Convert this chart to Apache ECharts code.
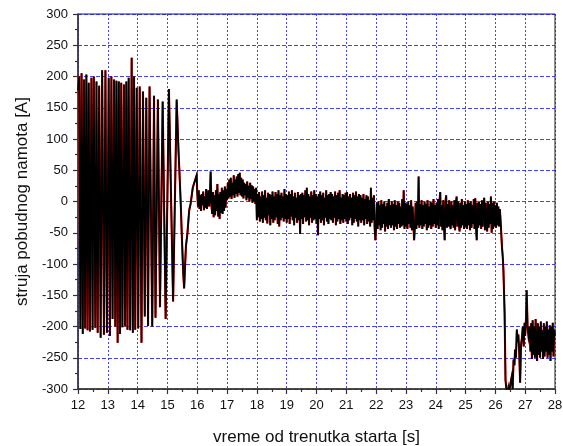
<!DOCTYPE html>
<html>
<head>
<meta charset="utf-8">
<script src="https://cdn.jsdelivr.net/npm/echarts@6/dist/echarts.min.js"></script>
<style>html,body{margin:0;padding:0;background:#fff}#c{width:563px;height:446px}</style>
</head>
<body>
<div id="c"></div>
<script>
// ---- axis ticks ----
const xTicks = [12,13,14,15,16,17,18,19,20,21,22,23,24,25,26,27,28];
const yTicks = [-300,-250,-200,-150,-100,-50,0,50,100,150,200,250,300];

// ---- oscillating start (peaks / troughs), time [s] and current [A] ----
const oscT = [12.00,12.04,12.08,12.12,12.16,12.20,12.24,12.28,12.32,12.36,12.40,12.45,12.49,12.53,12.58,12.62,12.66,12.71,12.76,12.81,12.87,12.92,12.97,13.03,13.07,13.12,13.16,13.21,13.25,13.29,13.33,13.37,13.41,13.45,13.49,13.54,13.58,13.62,13.66,13.70,13.75,13.80,13.84,13.88,13.92,13.97,14.02,14.07,14.13,14.18,14.24,14.29,14.35,14.40,14.49,14.55,14.60,14.68,14.75,14.84,14.94,15.05,15.19,15.31,15.37,15.40,15.45,15.48,15.53,15.56,15.59,15.62,15.67,15.73,15.78,15.85,15.90,15.95,15.98];
const oscI = [178,200,-204,205,-212,195,-203,203,-206,190,-208,198,-205,200,-202,192,-210,185,-218,210,-213,210,-210,198,-215,200,-188,195,-200,193,-226,192,-212,190,-201,187,-200,192,-205,198,-206,230,-210,200,-205,182,-203,184,-226,176,-184,166,-199,184,-200,169,-186,163,-169,160,-188,180,-160,163,82,50,-8,-51,-115,-139,-105,-72,-51,-14,-3,22,30,28,42];

// ---- steady part, sampled every 0.025 s from 16.0 s ----
const noiseStart = 16.0;
const noiseStep = 0.025;
const noiseI = [
 15,-8,18,-12,10,-15,12,-6,16,-14,8,-10,20,-12,5,18,-8,10,48,-5,
 -20,15,-25,10,-22,18,-15,28,-24,12,-28,15,-18,22,-20,18,-15,24,-10,20,
 2,30,5,35,8,38,4,30,10,42,6,35,12,40,8,44,14,46,10,38,
 8,35,5,30,10,28,2,32,6,25,0,30,4,26,-2,24,0,20,-4,22,
 -30,12,-25,15,-32,8,-28,16,-34,10,-26,18,-30,6,-35,14,-22,12,-38,10,
 -28,16,-34,8,-30,15,-25,12,-36,18,-40,10,-30,14,-26,8,-32,20,-28,12,
 -34,10,-28,16,-36,12,-24,18,-30,8,-38,14,-26,6,-34,15,-30,10,-52,12,
 -28,14,-36,10,-25,18,-32,22,-30,12,-38,8,-26,16,-34,10,-30,18,-28,12,
 -36,8,-54,12,-28,16,-34,10,-30,14,-38,6,-26,18,-32,10,-36,12,-28,15,
 -30,12,-34,8,-26,16,-38,10,-32,14,-28,18,-36,6,-30,12,-34,10,-28,14,
 -32,15,-36,8,-30,12,-26,6,-38,14,-34,10,-28,16,-32,8,-40,12,-30,10,
 -34,6,-30,12,-38,4,-28,10,-36,8,-32,2,-40,22,-34,6,-30,10,-42,-62,
 -40,-2,-44,0,-38,-6,-46,2,-42,-4,-36,0,-48,-8,-40,-2,-44,4,-38,-6,
 -42,0,-38,-4,-46,2,-40,-6,-44,0,-36,-2,-42,-8,-40,4,-38,18,-44,-2,
 -40,-4,-44,0,-36,-6,-42,2,-46,-8,-38,-62,-40,-2,-44,0,-38,40,-42,-4,
 -38,2,-44,-6,-40,0,-36,-4,-46,2,-42,-8,-38,0,-44,-2,-40,4,-36,-6,
 -42,-2,-38,4,-44,0,15,-40,-6,-46,2,-38,-62,0,10,-42,-4,-40,2,-36,
 -44,0,-38,-6,-42,2,-46,-4,8,-40,0,-36,-48,-2,-42,4,-38,-6,-44,0,
 -40,-4,-44,2,-38,-2,-46,0,-42,-6,-36,4,-44,5,-40,-62,-2,-42,0,-38,
 -4,-44,2,-40,-6,6,-46,-2,-38,-48,0,-42,-4,-36,8,-50,-2,-44,0,-40,
 -6,-42,-2,-38,-8,-40,-12
];

// ---- drop after 26.15 s ----
const dropT = [26.18,26.22,26.25,26.27,26.31,26.34,26.37,26.41,26.44,26.47,26.51,26.55,26.58,26.61,26.64,26.66,26.69,26.72,26.75,26.77,26.80,26.83,26.86,26.89,26.92,26.95,26.98,27.00,27.03,27.05,27.08,27.11];
const dropI = [-35,-72,-90,-110,-179,-286,-300,-310,-298,-305,-290,-280,-300,-253,-262,-237,-250,-205,-225,-213,-240,-290,-230,-218,-200,-232,-194,-215,-185,-142,-200,-215];

// ---- tail, sampled every 0.025 s from 27.15 s ----
const tailStart = 27.15;
const tailStep = 0.025;
const tailI = [-200,-240,-195,-252,-190,-245,-200,-250,-188,-238,-255,-195,-245,-200,-250,-192,-240,-206,-252,-195,-248,-200,-240,-192,-250,-205,-245,-198,-255,-200,-240,-194,-248,-205,-215];

// ---- build [t, i] pairs ----
const pts = [];
oscT.forEach((t, k) => pts.push([t, oscI[k]]));
noiseI.forEach((v, k) => pts.push([+(noiseStart + k * noiseStep).toFixed(3), v]));
dropT.forEach((t, k) => pts.push([t, dropI[k]]));
tailI.forEach((v, k) => pts.push([+(tailStart + k * tailStep).toFixed(3), v]));

const FONT = 'Liberation Sans, Arial, sans-serif';
const chart = echarts.init(document.getElementById('c'), null, {renderer: 'canvas'});
chart.setOption({
  animation: false,
  backgroundColor: '#fff',
  grid: {left: 78, right: 8, top: 14, bottom: 57, containLabel: false, outerBoundsMode: 'none',
         show: true, borderColor: '#222', borderWidth: 1, backgroundColor: 'transparent'},
  xAxis: {
    type: 'value', min: xTicks[0], max: xTicks[xTicks.length - 1], interval: 1,
    name: 'vreme od trenutka starta [s]', nameLocation: 'middle', nameGap: 40,
    nameTextStyle: {fontFamily: FONT, fontSize: 17, color: '#111'},
    axisLine: {show: true, onZero: false, lineStyle: {color: '#333', width: 1.5}},
    axisTick: {show: true, inside: false, length: 5, lineStyle: {color: '#333', width: 1.2}},
    minorTick: {show: true, splitNumber: 2, length: 3, lineStyle: {color: '#333', width: 1.2}},
    axisLabel: {fontFamily: FONT, fontSize: 13, color: '#111', margin: 10},
    splitLine: {show: true, lineStyle: {color: 'rgba(20,20,255,0.8)', type: [2, 2], width: 1}}
  },
  yAxis: {
    type: 'value', min: yTicks[0], max: yTicks[yTicks.length - 1], interval: 50,
    name: 'struja pobudnog namota [A]', nameLocation: 'middle', nameGap: 46,
    nameTextStyle: {fontFamily: FONT, fontSize: 17, color: '#111'},
    axisLine: {show: true, onZero: false, lineStyle: {color: '#333', width: 1.5}},
    axisTick: {show: true, inside: false, length: 5, lineStyle: {color: '#333', width: 1.2}},
    minorTick: {show: true, splitNumber: 2, length: 3, lineStyle: {color: '#333', width: 1.2}},
    axisLabel: {fontFamily: FONT, fontSize: 13, color: '#111', margin: 10},
    splitLine: {show: true, lineStyle: {color: 'rgba(20,20,255,0.8)', type: [4, 2], width: 1}}
  },
  series: [
    {type: 'line', data: pts, showSymbol: false, sampling: 'none', clip: true, z: 2,
     lineStyle: {color: '#ff0000', width: 2.1, join: 'miter'}},
    {type: 'line', data: pts, showSymbol: false, sampling: 'none', clip: true, z: 3,
     lineStyle: {color: '#000000', width: 1.7, join: 'miter'}}
  ]
});
</script>
</body>
</html>
